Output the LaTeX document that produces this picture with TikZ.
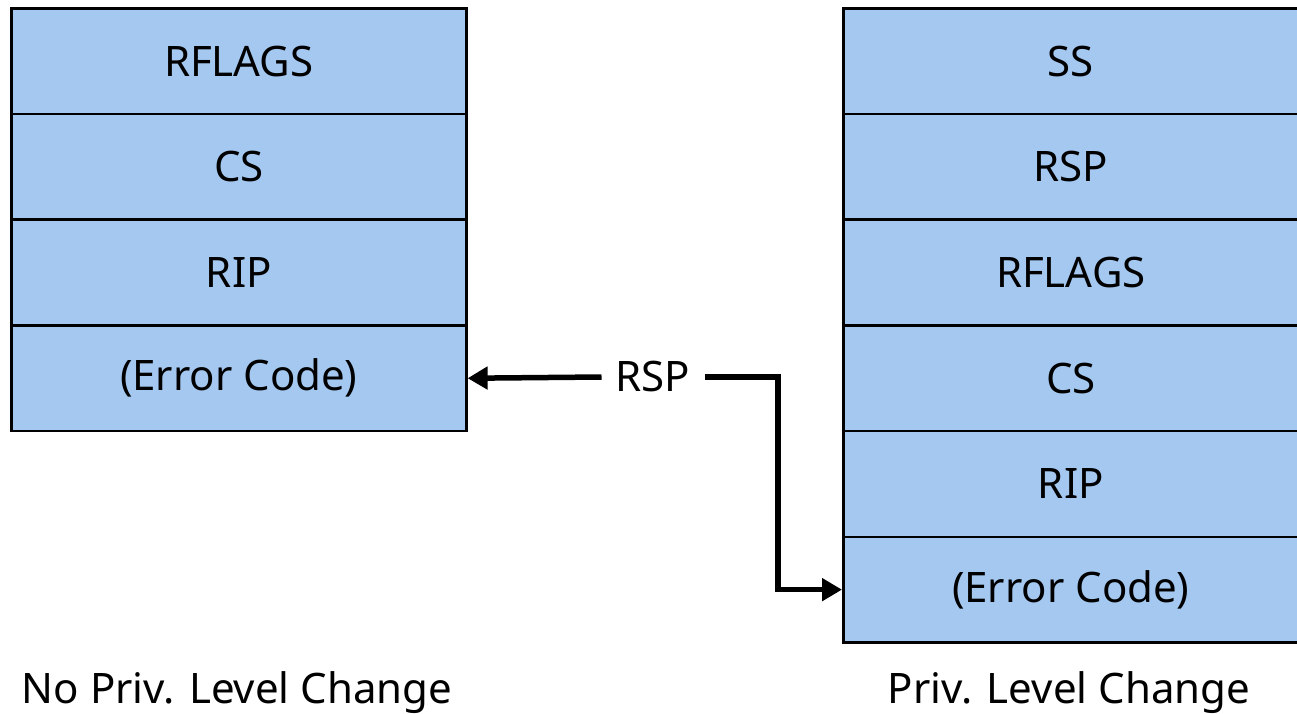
\documentclass[tikz,border=0pt]{standalone}
\usepackage{fontspec}
\setmainfont{Noto Sans}
\usetikzlibrary{arrows.meta}
\definecolor{cellblue}{HTML}{A4C8F0}
\tikzset{
  cell/.style={draw=black, line width=2.6pt, fill=cellblue, minimum width=455pt, minimum height=105.7pt, inner sep=0pt, anchor=north west, font=\fontsize{42}{48}\selectfont},
  lbl/.style={font=\fontsize{42}{48}\selectfont, inner sep=0pt},
  conn/.style={line width=5.5pt, -{Triangle[length=20pt, width=22pt]}}
}
\begin{document}
\begin{tikzpicture}[x=1pt,y=-1pt]
\useasboundingbox (0,0) rectangle (1297,714);
% left stack
\node[cell] (l1) at (10,7) {RFLAGS};
\node[cell] (l2) at (10,112.7) {CS};
\node[cell] (l3) at (10,218.4) {RIP};
\node[cell] (l4) at (10,324.1) {(Error Code)};
% right stack
\node[cell] (r1) at (842,7) {SS};
\node[cell] (r2) at (842,112.7) {RSP};
\node[cell] (r3) at (842,218.4) {RFLAGS};
\node[cell] (r4) at (842,324.1) {CS};
\node[cell] (r5) at (842,429.8) {RIP};
\node[cell] (r6) at (842,535.5) {(Error Code)};
% labels
\node[lbl] (rsp) at (653,377) {RSP};
\node[lbl, anchor=base] (capl) at (237,703) {No Priv. Level Change};
\node[lbl, anchor=base] (capr) at (1069,703) {Priv. Level Change};
% connectors
\coordinate (a1) at ([xshift=-14pt]rsp.west);
\draw[conn] (a1) -- (l4.east);
\coordinate (b1) at ([xshift=14pt]rsp.east);
\coordinate (k) at (778,0);
\draw[conn] (b1) -| (k |- r6.west) -- (r6.west);
\end{tikzpicture}
\end{document}
